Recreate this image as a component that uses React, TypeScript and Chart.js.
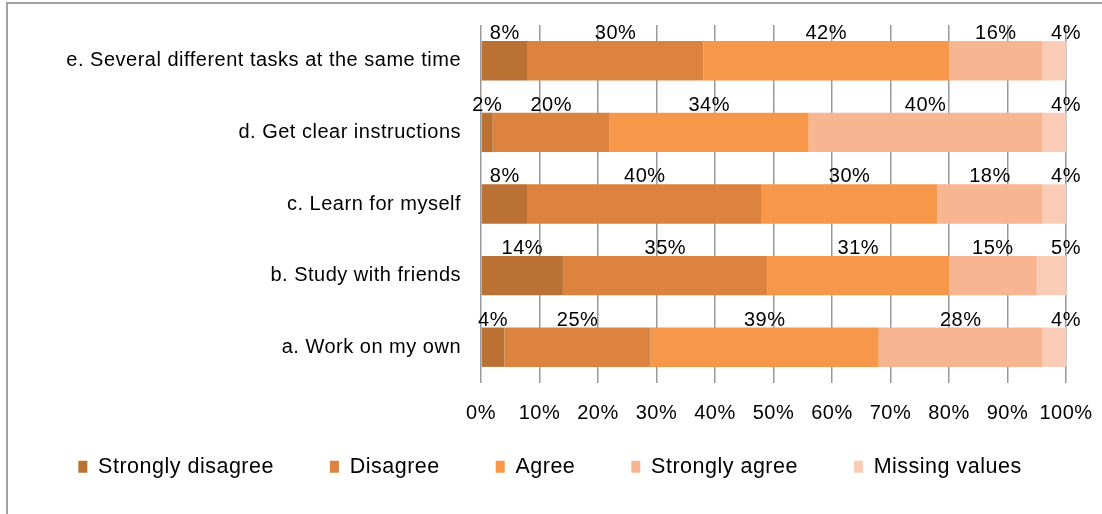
import React, { useEffect, useRef } from "react";
import { Chart, registerables } from "chart.js";

Chart.register(...registerables);

const categories = [
  "e. Several different tasks at the same time",
  "d. Get clear instructions",
  "c. Learn for myself",
  "b. Study with friends",
  "a. Work on my own",
];
const seriesNames = ["Strongly disagree", "Disagree", "Agree", "Strongly agree", "Missing values"];
const stronglyDisagree = [8, 2, 8, 14, 4];
const disagree = [30, 20, 40, 35, 25];
const agree = [42, 34, 30, 31, 39];
const stronglyAgree = [16, 40, 18, 15, 28];
const missingValues = [4, 4, 4, 5, 4];
const xTicks = [0, 10, 20, 30, 40, 50, 60, 70, 80, 90, 100];

const colors = ["#BB7134", "#DC833F", "#F69749", "#F8B591", "#FBCCB5"];
const FONT = "'Liberation Sans', Arial, sans-serif";
const FS = 20;
const SPACING = "0.5px";

const layoutPlugin = {
  id: "layoutTweaks",
  beforeUpdate(chart: any) {
    chart.ctx.letterSpacing = SPACING;
    const lg = chart.legend;
    if (lg && !lg._patched) {
      const orig = lg.fit.bind(lg);
      lg.fit = function () {
        orig();
        this.height = 80;
      };
      lg._patched = true;
    }
  },
  afterLayout(chart: any) {
    const lg = chart.legend;
    if (lg) {
      const h = lg.height;
      lg.top = 400;
      lg.bottom = 400 + h;
      lg.left += 13;
      lg.right += 13;
    }
  },
  beforeDraw(chart: any) {
    chart.ctx.letterSpacing = SPACING;
  },
};

const labelPlugin = {
  id: "segLabels",
  afterDatasetsDraw(chart: any) {
    const ctx = chart.ctx;
    ctx.save();
    ctx.letterSpacing = SPACING;
    ctx.font = `${FS}px ${FONT}`;
    ctx.fillStyle = "#000";
    ctx.textAlign = "center";
    ctx.textBaseline = "alphabetic";
    const last = chart.data.datasets.length - 1;
    chart.data.datasets.forEach((ds: any, i: number) => {
      const meta = chart.getDatasetMeta(i);
      meta.data.forEach((el: any, j: number) => {
        const v = ds.data[j];
        const cx = i === last ? el.x : (el.x + el.base) / 2;
        const top = el.y - el.height / 2;
        ctx.fillText(`${v}%`, cx, top - 2);
      });
    });
    ctx.restore();
  },
};

export default function App() {
  const ref = useRef<HTMLCanvasElement | null>(null);
  useEffect(() => {
    if (!ref.current) return;
    const all = [stronglyDisagree, disagree, agree, stronglyAgree, missingValues];
    const chart = new Chart(ref.current, {
      type: "bar",
      data: {
        labels: categories,
        datasets: all.map((d, i) => ({
          label: seriesNames[i],
          data: d,
          backgroundColor: colors[i],
          borderWidth: 0,
          barPercentage: 0.55,
          categoryPercentage: 1,
        })),
      },
      options: {
        indexAxis: "y",
        animation: false,
        responsive: false,
        layout: { padding: { left: 8, right: 36, top: 25, bottom: 1 } },
        scales: {
          x: {
            stacked: true,
            min: 0,
            max: 100,
            afterBuildTicks: (s: any) => {
              s.ticks = xTicks.map((v) => ({ value: v }));
            },
            afterFit: (s: any) => {
              s.height = 50;
              s.paddingLeft = 0;
              s.paddingRight = 0;
            },
            ticks: {
              callback: (v: any) => `${v}%`,
              color: "#000",
              font: { family: FONT, size: FS },
              padding: 18,
              maxRotation: 0,
            },
            grid: { color: "#999", lineWidth: 1.5, drawTicks: false },
            border: { display: false },
          },
          y: {
            stacked: true,
            afterFit: (s: any) => {
              s.width = 473;
              s.paddingTop = 0;
              s.paddingBottom = 0;
            },
            ticks: {
              color: "#000",
              font: { family: FONT, size: FS },
              padding: 12,
            },
            grid: { display: false },
            border: { display: false },
          },
        },
        plugins: {
          legend: {
            position: "bottom",
            labels: {
              boxWidth: 9,
              boxHeight: 12,
              padding: 56,
              color: "#000",
              font: { family: FONT, size: 21.5 },
            },
          },
          tooltip: { enabled: false },
        },
      },
      plugins: [layoutPlugin, labelPlugin],
    });
    return () => chart.destroy();
  }, []);
  return (
    <>
      <div
        style={{
          position: "fixed",
          left: 6,
          top: 2,
          width: 1300,
          height: 700,
          border: "2px solid #a0a0a0",
          boxSizing: "border-box",
        }}
      />
      <canvas
        ref={ref}
        width={1102}
        height={514}
        style={{ position: "fixed", left: 0, top: 0, width: 1102, height: 514 }}
      />
    </>
  );
}
